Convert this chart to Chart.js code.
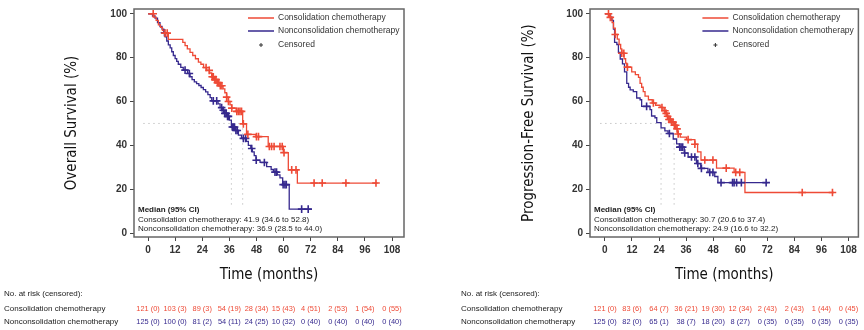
<!DOCTYPE html>
<html>
<head>
<meta charset="utf-8">
<script src="https://cdn.jsdelivr.net/npm/chart.js@4.4.0/dist/chart.umd.min.js"></script>
<style>
  body { margin: 0; background: #fff; }
  #wrap { position: relative; width: 864px; height: 330px; }
  canvas { position: absolute; top: 0; }
</style>
</head>
<body>
<div id="wrap">
  <canvas id="osChart" width="432" height="330" style="left:0"></canvas>
  <canvas id="pfsChart" width="432" height="330" style="left:432px"></canvas>
</div>
<script>
/* DATA */

const groupNames = ['Consolidation chemotherapy', 'Nonconsolidation chemotherapy'];
const riskTimes = [0, 12, 24, 36, 48, 60, 72, 84, 96, 108];
const yTicks = [0, 20, 40, 60, 80, 100];

// overall survival - consolidation (step times / survival %)
const osConT = [0, 2.6, 3.6, 4.6, 5.5, 6.4, 7.2, 9.0, 15.4, 16.4, 17.4, 18.6, 19.8, 21.0, 22.3, 23.4, 24.6, 26.0, 27.2, 28.2, 29.5, 30.6, 31.8, 33.2, 34.0, 34.8, 35.5, 36.3, 37.0, 39.0, 41.9, 43.6, 47.8, 53.2, 59.9, 62.1, 66.1];
const osConS = [100, 98.5, 97, 95, 93.8, 92.5, 91.2, 88.3, 87, 85.5, 84, 82.4, 81, 79.5, 78, 77, 75.5, 74.2, 73, 71.3, 70, 68.6, 67.2, 65.8, 64, 62, 60, 58.5, 57, 55.5, 49.8, 45.0, 44.0, 39.5, 36.7, 28.8, 22.8];
const osConEnd = 101.6;
const osConCens = [2.3, 7.5, 8.5, 25.7, 27.1, 28.4, 28.9, 29.6, 30.1, 30.7, 31.3, 32.0, 32.7, 34.8, 35.6, 37.1, 39.3, 40.0, 40.7, 41.4, 42.2, 44.2, 48.0, 48.9, 53.7, 54.7, 55.8, 58.4, 59.4, 60.2, 63.6, 65.5, 73.5, 77.1, 87.6, 100.9];

// overall survival - nonconsolidation
const osNonT = [0, 2.0, 3.1, 4.2, 5.3, 6.2, 7.0, 7.6, 8.3, 9.0, 9.8, 10.5, 11.2, 12.0, 12.7, 13.4, 14.5, 15.6, 17.5, 18.6, 19.5, 20.5, 21.5, 22.5, 23.5, 24.5, 25.5, 26.5, 27.5, 28.2, 31.0, 31.9, 33.0, 34.0, 35.0, 36.0, 36.9, 38.6, 40.0, 41.4, 43.5, 44.4, 45.5, 46.2, 47.0, 47.8, 49.6, 52.5, 54.5, 55.5, 57.2, 58.4, 59.6, 62.5];
const osNonS = [100, 99, 98, 96, 94.3, 93, 91.4, 89.5, 87.6, 85.8, 84.5, 82.7, 81, 79.6, 78.3, 77, 75.6, 74.3, 72.8, 71.3, 70, 69, 68.2, 67.3, 66.4, 65.4, 64.4, 63.1, 61.8, 60.3, 58.9, 57.2, 56, 54.6, 53.2, 51.5, 48.4, 46.8, 44.7, 43.2, 41.8, 40.0, 38.6, 37.0, 35.3, 33.2, 32.2, 30.3, 29.0, 27.8, 26.5, 25.2, 22.1, 10.9];
const osNonEnd = 72.4;
const osNonCens = [7.3, 16.4, 18.3, 28.9, 30.4, 32.6, 33.3, 34.0, 34.6, 35.2, 35.6, 37.3, 37.8, 38.3, 38.9, 39.5, 42.2, 43.2, 45.9, 47.9, 51.5, 56.2, 56.9, 59.8, 60.6, 61.2, 68.0, 70.9];

// progression-free survival - consolidation
const pfsConT = [0, 2.0, 3.2, 3.8, 4.6, 5.5, 6.3, 7.0, 7.5, 8.5, 9.2, 9.7, 11.9, 13.5, 14.9, 15.6, 16.3, 17.0, 17.8, 19.3, 21.0, 22.5, 24.5, 25.8, 26.8, 27.6, 28.4, 29.4, 30.7, 31.5, 32.2, 33.4, 36.2, 39.9, 41.1, 42.6, 49.5, 57.3, 62.1];
const pfsConS = [100, 98.4, 96, 93.5, 90.6, 88.5, 86, 84, 82, 79.5, 77.5, 75.7, 73.5, 72.3, 71, 68.3, 66.5, 64.5, 62.5, 60.8, 59.3, 58.3, 57.3, 55.8, 54.6, 53.3, 51.8, 50.6, 49.2, 47.5, 45.2, 43.8, 42.6, 40.5, 37, 33.3, 29.6, 27.7, 18.5];
const pfsConEnd = 101.6;
const pfsConCens = [1.6, 2.4, 4.6, 7.5, 8.4, 10.0, 21.5, 25.3, 26.6, 27.2, 27.8, 28.4, 29.0, 29.6, 30.2, 30.8, 31.4, 32.0, 32.5, 36.9, 39.9, 44.3, 47.9, 53.8, 58.0, 59.8, 87.5, 100.9];

// progression-free survival - nonconsolidation
const pfsNonT = [0, 2.5, 3.1, 3.8, 4.3, 5.3, 6.0, 6.8, 7.8, 8.7, 9.7, 10.5, 11.2, 12.6, 14.1, 15.6, 16.3, 20.0, 20.7, 22.2, 23.0, 24.9, 26.6, 28.0, 30.3, 31.8, 33.0, 35.2, 36.9, 40.6, 42.5, 45.7, 48.7, 50.1];
const pfsNonS = [100, 98.5, 97, 93, 87, 86, 82.4, 79.4, 77.2, 73.5, 68.3, 66.5, 65.3, 64.5, 61.6, 60.8, 57.8, 56.3, 53.4, 52.6, 50.4, 48, 46.6, 45.4, 42.9, 40.7, 39.2, 36.5, 34.7, 31.7, 29.5, 27.7, 25.8, 23.0];
const pfsNonEnd = 72.2;
const pfsNonCens = [18.5, 28.6, 33.2, 33.8, 34.5, 35.4, 38.4, 39.9, 41.2, 42.8, 46.5, 47.9, 51.5, 56.6, 57.3, 58.4, 60.5, 71.5];

// medians
const osMedians = [41.9, 36.9];
const pfsMedians = [30.7, 24.9];
const osMedianText = ['Median (95% CI)', 'Consolidation chemotherapy: 41.9 (34.6 to 52.8)', 'Nonconsolidation chemotherapy: 36.9 (28.5 to 44.0)'];
const pfsMedianText = ['Median (95% CI)', 'Consolidation chemotherapy: 30.7 (20.6 to 37.4)', 'Nonconsolidation chemotherapy: 24.9 (16.6 to 32.2)'];

// numbers at risk (censored)
const osRiskCon = ['121 (0)', '103 (3)', '89 (3)', '54 (19)', '28 (34)', '15 (43)', '4 (51)', '2 (53)', '1 (54)', '0 (55)'];
const osRiskNon = ['125 (0)', '100 (0)', '81 (2)', '54 (11)', '24 (25)', '10 (32)', '0 (40)', '0 (40)', '0 (40)', '0 (40)'];
const pfsRiskCon = ['121 (0)', '83 (6)', '64 (7)', '36 (21)', '19 (30)', '12 (34)', '2 (43)', '2 (43)', '1 (44)', '0 (45)'];
const pfsRiskNon = ['125 (0)', '82 (0)', '65 (1)', '38 (7)', '18 (20)', '8 (27)', '0 (35)', '0 (35)', '0 (35)', '0 (35)'];

/* STYLE */

const RED = '#ee4a36';
const BLUE = '#36298e';
const NARROW = '"Liberation Sans Narrow", "DejaVu Sans Condensed", Arial, sans-serif';
const SANS = '"Liberation Sans", Arial, sans-serif';

/* HELPERS */

function stepPoints(times, surv, end) {
  let pts = times.map((t, i) => ({x: t, y: surv[i]}));
  pts.push({x: end, y: surv[surv.length - 1]});
  return pts;
}

function survAt(times, surv, t) {
  let s = surv[0];
  for (let i = 0; i < times.length; i++) {
    if (times[i] <= t) s = surv[i];
  }
  return s;
}

function censorPoints(cens, times, surv) {
  return cens.map(t => ({x: t, y: survAt(times, surv, t)}));
}

function medianLines(medians) {
  let sets = [{x: -2, y: 50}, {x: Math.max(...medians), y: 50}];
  let out = [sets];
  medians.forEach(m => out.push([{x: m, y: 50}, {x: m, y: 12}]));
  return out.map(d => ({
    data: d, showLine: true, borderColor: '#aaa', borderWidth: 1,
    borderDash: [1, 4], pointRadius: 0, order: 5
  }));
}

/* PLUGIN: FRAME, LEGEND, MEDIAN BOX, RISK TABLE */

const kmExtras = {
  id: 'kmExtras',
  afterDraw(chart, args, opts) {
    const {ctx, chartArea: a, scales: {x}} = chart;
    ctx.save();
    ctx.strokeStyle = '#666';
    ctx.lineWidth = 1.5;
    ctx.strokeRect(a.left, a.top, a.right - a.left, a.bottom - a.top);

    // legend
    let lx = a.right - 156;
    ctx.lineWidth = 1.5;
    ctx.font = '8.5px ' + SANS;
    ctx.textBaseline = 'middle';
    ctx.textAlign = 'left';
    [RED, BLUE].forEach((c, i) => {
      let y = a.top + 9 + i * 13;
      ctx.strokeStyle = c;
      ctx.beginPath(); ctx.moveTo(lx, y); ctx.lineTo(lx + 26, y); ctx.stroke();
      ctx.fillStyle = '#333';
      ctx.fillText(groupNames[i], lx + 30, y);
    });
    let cy = a.top + 36;
    ctx.strokeStyle = '#333';
    ctx.lineWidth = 1;
    ctx.beginPath();
    ctx.moveTo(lx + 11, cy); ctx.lineTo(lx + 15, cy);
    ctx.moveTo(lx + 13, cy - 2); ctx.lineTo(lx + 13, cy + 2);
    ctx.stroke();
    ctx.fillText('Censored', lx + 30, cy);

    // median block
    ctx.fillStyle = '#222';
    opts.median.forEach((t, i) => {
      ctx.font = (i === 0 ? 'bold ' : '') + '8px ' + SANS;
      ctx.fillText(t, a.left + 4, a.bottom - 27 + i * 9.5);
    });

    // risk table
    ctx.font = '8px ' + SANS;
    ctx.fillStyle = '#222';
    ctx.fillText('No. at risk (censored):', opts.labelX, 294);
    ctx.fillText(groupNames[0], opts.labelX, 308.5);
    ctx.fillText(groupNames[1], opts.labelX, 322);
    ctx.textAlign = 'center';
    ctx.font = '7.4px ' + SANS;
    riskTimes.forEach((t, i) => {
      let px = x.getPixelForValue(t);
      ctx.fillStyle = RED;
      ctx.fillText(opts.riskCon[i], px, 308.5);
      ctx.fillStyle = BLUE;
      ctx.fillText(opts.riskNon[i], px, 322);
    });
    ctx.restore();
  }
};

/* BUILD ONE KAPLAN-MEIER CHART */

function printKmChart(canvasId, cfg) {
  let ctx = document.getElementById(canvasId).getContext('2d');
  return new Chart(ctx, {
    type: 'scatter',
    data: {
      datasets: [
        {data: censorPoints(cfg.conCens, cfg.conT, cfg.conS), pointStyle: 'cross', pointRadius: 3.8, borderWidth: 1.6, borderColor: RED, order: 1},
        {data: censorPoints(cfg.nonCens, cfg.nonT, cfg.nonS), pointStyle: 'cross', pointRadius: 3.8, borderWidth: 1.6, borderColor: BLUE, order: 1},
        {data: stepPoints(cfg.conT, cfg.conS, cfg.conEnd), showLine: true, stepped: 'before', borderColor: RED, borderWidth: 1.3, pointRadius: 0, order: 3},
        {data: stepPoints(cfg.nonT, cfg.nonS, cfg.nonEnd), showLine: true, stepped: 'before', borderColor: BLUE, borderWidth: 1.3, pointRadius: 0, order: 3}
      ].concat(medianLines(cfg.medians))
    },
    options: {
      responsive: false,
      animation: false,
      layout: {padding: {left: 0, top: 4, right: cfg.padRight, bottom: 46}},
      plugins: {
        legend: {display: false},
        tooltip: {enabled: false},
        kmExtras: {median: cfg.medianText, riskCon: cfg.riskCon, riskNon: cfg.riskNon, labelX: cfg.labelX}
      },
      scales: {
        x: {
          type: 'linear', min: cfg.xMin, max: cfg.xMax,
          afterBuildTicks: s => { s.ticks = riskTimes.map(v => ({value: v})); },
          afterFit: s => { s.height = 47; },
          grid: {drawOnChartArea: false, drawTicks: true, tickLength: 4, color: '#444'},
          border: {display: false},
          ticks: {autoSkip: false, maxRotation: 0, padding: 3, color: '#333', font: {family: SANS, size: 10, weight: 'bold'}},
          title: {display: true, text: 'Time (months)', color: '#111', padding: {top: 0, bottom: 0}, font: {family: NARROW, size: 15}}
        },
        y: {
          min: -1.8, max: 102.2,
          afterBuildTicks: s => { s.ticks = yTicks.map(v => ({value: v})); },
          afterFit: s => { s.width = cfg.yWidth; },
          grid: {drawOnChartArea: false, drawTicks: true, tickLength: 4, color: '#444'},
          border: {display: false},
          ticks: {padding: 3, color: '#333', font: {family: SANS, size: 10, weight: 'bold'}},
          title: {display: true, text: cfg.yTitle, color: '#111', padding: {top: cfg.yWidth === 134 ? 63 : 88, bottom: 0}, font: {family: NARROW, size: 15}}
        }
      }
    },
    plugins: [kmExtras]
  });
}

printKmChart('osChart', {
  conT: osConT, conS: osConS, conEnd: osConEnd, conCens: osConCens,
  nonT: osNonT, nonS: osNonS, nonEnd: osNonEnd, nonCens: osNonCens,
  medians: osMedians, medianText: osMedianText, riskCon: osRiskCon, riskNon: osRiskNon,
  yTitle: 'Overall Survival (%)', xMin: -6.2, xMax: 113.3, yWidth: 134, padRight: 28, labelX: 4
});

printKmChart('pfsChart', {
  conT: pfsConT, conS: pfsConS, conEnd: pfsConEnd, conCens: pfsConCens,
  nonT: pfsNonT, nonS: pfsNonS, nonEnd: pfsNonEnd, nonCens: pfsNonCens,
  medians: pfsMedians, medianText: pfsMedianText, riskCon: pfsRiskCon, riskNon: pfsRiskNon,
  yTitle: 'Progression-Free Survival (%)', xMin: -6.6, xMax: 112.4, yWidth: 158, padRight: 4, labelX: 29
});
</script>
</body>
</html>
